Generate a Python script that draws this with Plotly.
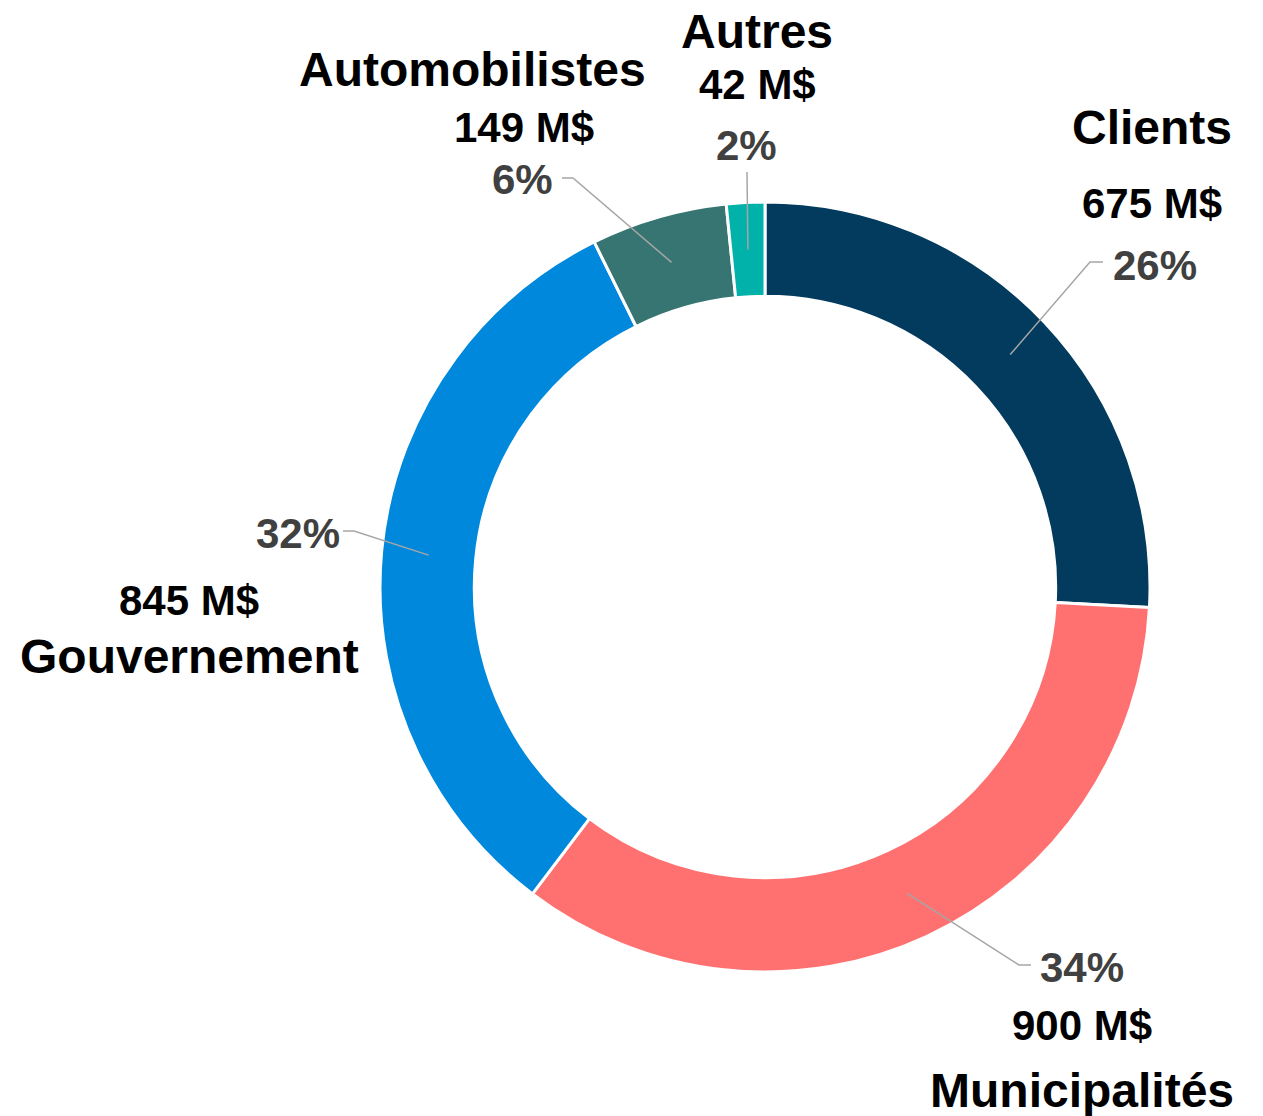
import math
import plotly.graph_objects as go

# ---- data ----
categories = ["Clients", "Municipalités", "Gouvernement", "Automobilistes", "Autres"]
values = [675, 900, 845, 149, 42]
value_labels = ["675 M$", "900 M$", "845 M$", "149 M$", "42 M$"]
pct_labels = ["26%", "34%", "32%", "6%", "2%"]
colors = ["#023B5E", "#FF7170", "#0088DC", "#367571", "#00B2AA"]

W, H = 1263, 1116
OFF = 0  # page body margin removed below
CX, CY, R_OUT = 765, 587, 385
HOLE = 0.755
R_MID = R_OUT * (1 + HOLE) / 2

# label layout (pixel positions in the screenshot, layout only)
layout_pos = {
    "Clients":        dict(name=(1152, 127), val=(1152, 203), pct=(1155, 265), elbow=(1090, 262), end=(1103, 262)),
    "Municipalités":  dict(name=(1082, 1090), val=(1082, 1025), pct=(1082, 967), elbow=(1019, 965), end=(1031, 965)),
    "Gouvernement":   dict(name=(189, 657), val=(189, 600), pct=(298, 533), elbow=(354, 531), end=(343, 531)),
    "Automobilistes": dict(name=(472, 70), val=(524, 128), pct=(522, 180), elbow=(573, 178), end=(562, 178)),
    "Autres":         dict(name=(757, 31), val=(757, 84), pct=(746, 146), elbow=None, end=(747, 172)),
}

def px(x, y):
    return (x - OFF) / W, (H - (y - OFF)) / H

x0, y0 = px(CX - R_OUT, CY + R_OUT)
x1, y1 = px(CX + R_OUT, CY - R_OUT)

fig = go.Figure(go.Pie(
    labels=categories, values=values, hole=HOLE, sort=False, direction="clockwise",
    rotation=0, textinfo="none", hoverinfo="label+value+percent",
    marker=dict(colors=colors, line=dict(color="white", width=3)),
    domain=dict(x=[x0, x1], y=[y0, y1]),
    showlegend=False,
))

FONT = "Liberation Sans, Arial, sans-serif"
total = sum(values)
cum = 0
annotations, shapes = [], []
for cat, v, vl, pl in zip(categories, values, value_labels, pct_labels):
    mid = (cum + v / 2) / total * 2 * math.pi
    cum += v
    sx = CX + R_MID * math.sin(mid)
    sy = CY - R_MID * math.cos(mid)
    p = layout_pos[cat]
    pts = [(sx, sy)]
    if p["elbow"]:
        pts.append(p["elbow"])
    pts.append(p["end"])
    path = "M " + " L ".join(f"{px(a, b)[0]:.5f},{px(a, b)[1]:.5f}" for a, b in pts)
    shapes.append(dict(type="path", path=path, xref="paper", yref="paper",
                       line=dict(color="#A6A6A6", width=1.5)))
    for key, txt, size, col in [("name", cat, 48, "#000000"), ("val", vl, 42, "#000000"),
                                ("pct", pl, 42, "#404040")]:
        x, y = px(*p[key])
        annotations.append(dict(text=txt, x=x, y=y, xref="paper", yref="paper",
                                showarrow=False, xanchor="center", yanchor="middle",
                                borderpad=0,
                                font=dict(family=FONT, size=size, color=col, weight="bold")))

fig.update_layout(width=W, height=H, margin=dict(l=0, r=0, t=0, b=0),
                  paper_bgcolor="white", plot_bgcolor="white",
                  annotations=annotations, shapes=shapes)
fig.write_html("out.html", config={"displayModeBar": False},
               post_script="document.body.style.margin='0';")
